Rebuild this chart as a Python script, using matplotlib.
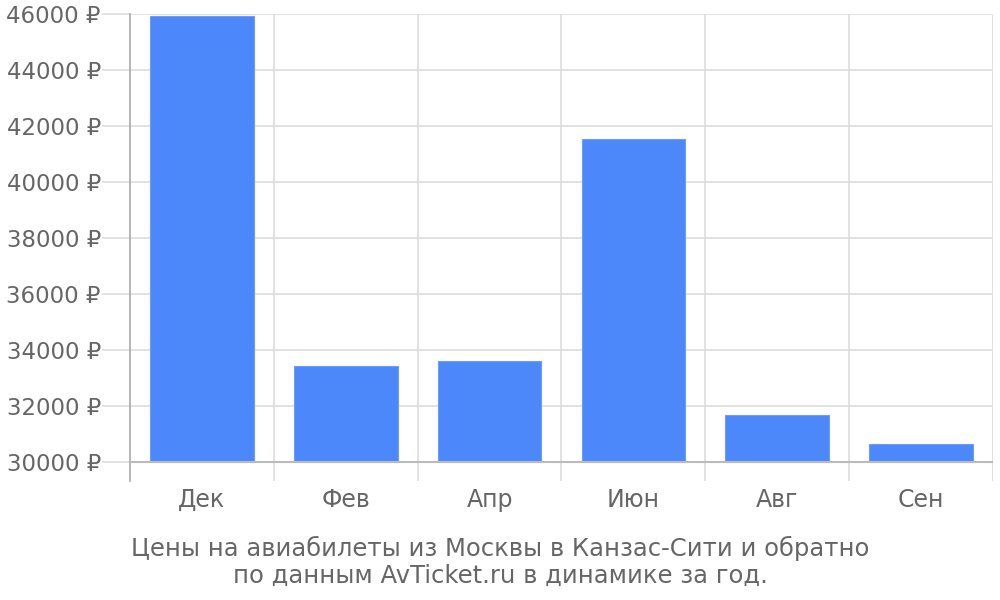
import matplotlib
matplotlib.use("Agg")
import matplotlib.pyplot as plt
import numpy as np

months = ["Дек", "Фев", "Апр", "Июн", "Авг", "Сен"]
prices = [45930, 33430, 33600, 41540, 31670, 30640]
yticks = list(range(30000, 46001, 2000))
caption = "Цены на авиабилеты из Москвы в Канзас-Сити и обратно\nпо данным AvTicket.ru в динамике за год."

txt = "#666666"
grid = "#dddddd"

fig = plt.figure(figsize=(10, 6), dpi=100)
ax = fig.add_axes([0.130, 1 - 481 / 600, 0.863, (481 - 14) / 600])

x = np.arange(len(months))
base = 30000
ax.bar(x, [p - base for p in prices], bottom=base, width=0.72,
       color="#4d88fa", edgecolor="#6d9cfb", linewidth=0.8, zorder=3)

ax.set_xlim(-0.5, len(months) - 0.5)
ax.set_ylim(base - 19 / 28 * 1000, 46000)

ax.set_yticks(yticks)
ax.set_yticklabels([f"{t} ₽" for t in yticks])
ax.set_xticks(x)
ax.set_xticklabels(months)

# category boundaries as vertical grid
for b in np.arange(0.5, len(months), 1.0):
    ax.axvline(b, color=grid, lw=1.2, zorder=1)
for t in yticks:
    ax.axhline(t, color=grid, lw=1.2, zorder=1)
ax.axhline(base, color="#bbbbbb", lw=1.5, zorder=4)

for s in ["top", "right", "bottom"]:
    ax.spines[s].set_visible(False)
ax.spines["left"].set_color("#aaaaaa")
ax.spines["left"].set_linewidth(1.2)

ax.tick_params(axis="y", length=20, color=grid, width=1.2, labelsize=16.5,
               labelcolor=txt, pad=1)
ax.tick_params(axis="x", length=0, labelsize=17, labelcolor=txt, pad=5)

fig.text(0.5, 1 - 562 / 600, caption, ha="center", va="center",
         fontsize=17.5, color=txt, linespacing=1.15)

fig.savefig("out.png", dpi=100)
